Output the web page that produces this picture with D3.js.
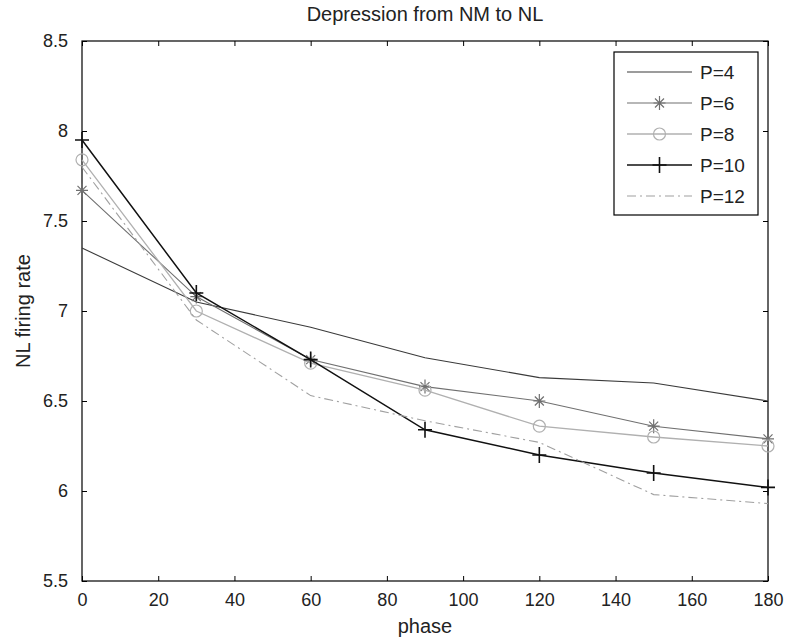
<!DOCTYPE html>
<html><head><meta charset="utf-8">
<script src="https://cdn.jsdelivr.net/npm/d3@7"></script>
<style>body{margin:0;background:#fff}svg text{font-family:"Liberation Sans",Arial,sans-serif;fill:#222}</style>
</head><body><svg id="c" width="786" height="641"></svg>
<script>
const phases = [0, 30, 60, 90, 120, 150, 180];
const p4  = [7.35, 7.05, 6.91, 6.74, 6.63, 6.60, 6.50];
const p6  = [7.67, 7.08, 6.73, 6.58, 6.50, 6.36, 6.29];
const p8  = [7.84, 7.00, 6.71, 6.56, 6.36, 6.30, 6.25];
const p10 = [7.95, 7.10, 6.73, 6.34, 6.20, 6.10, 6.02];
const p12 = [7.80, 6.95, 6.53, 6.39, 6.27, 5.98, 5.93];
const seriesNames = ["P=4", "P=6", "P=8", "P=10", "P=12"];
const xTicks = [0, 20, 40, 60, 80, 100, 120, 140, 160, 180];
const yTicks = [5.5, 6, 6.5, 7, 7.5, 8, 8.5];
const yTickLabels = ["5.5", "6", "6.5", "7", "7.5", "8", "8.5"];

const series = [
  {name: seriesNames[0], values: p4,  color: "#3a3a3a", width: 1.1, dash: null, marker: null},
  {name: seriesNames[1], values: p6,  color: "#707070", width: 1.1, dash: null, marker: "star"},
  {name: seriesNames[2], values: p8,  color: "#b0b0b0", width: 1.3, dash: null, marker: "circle"},
  {name: seriesNames[3], values: p10, color: "#111111", width: 1.5, dash: null, marker: "plus"},
  {name: seriesNames[4], values: p12, color: "#a0a0a0", width: 1.1, dash: "9,4,2,4", marker: null}
];

const L = 82, R = 768, T = 41, B = 581;
const svg = d3.select("#c");
const x = d3.scaleLinear().domain([0, 180]).range([L, R]);
const y = d3.scaleLinear().domain([5.5, 8.5]).range([B, T]);

// axes
const tl = 5;
svg.append("g").attr("transform", `translate(0,${B})`)
  .call(d3.axisBottom(x).tickValues(xTicks).tickSizeInner(-tl).tickSizeOuter(0).tickPadding(12).tickFormat(d3.format("d")))
  .call(g => { g.select(".domain").remove(); g.selectAll("text").attr("font-size", 18).attr("dy", "0.72em"); g.selectAll("line").attr("stroke", "#000"); });
svg.append("g").attr("transform", `translate(0,${T})`)
  .call(d3.axisTop(x).tickValues(xTicks).tickSizeInner(-tl).tickSizeOuter(0).tickFormat(""))
  .call(g => { g.select(".domain").remove(); g.selectAll("line").attr("stroke", "#000"); });
svg.append("g").attr("transform", `translate(${L},0)`)
  .call(d3.axisLeft(y).tickValues(yTicks).tickSizeInner(-tl).tickSizeOuter(0).tickPadding(14).tickFormat((d, i) => yTickLabels[i]))
  .call(g => { g.select(".domain").remove(); g.selectAll("text").attr("font-size", 18); g.selectAll("line").attr("stroke", "#000"); });
svg.append("g").attr("transform", `translate(${R},0)`)
  .call(d3.axisRight(y).tickValues(yTicks).tickSizeInner(-tl).tickSizeOuter(0).tickFormat(""))
  .call(g => { g.select(".domain").remove(); g.selectAll("line").attr("stroke", "#000"); });
svg.append("rect").attr("x", L).attr("y", T).attr("width", R - L).attr("height", B - T)
  .attr("fill", "none").attr("stroke", "#000").attr("stroke-width", 1.2);

// markers
function drawMarker(g, type, cx, cy, color) {
  if (type === "plus") {
    g.append("path").attr("d", `M${cx-7},${cy}H${cx+7}M${cx},${cy-8}V${cy+8}`).attr("stroke", color).attr("stroke-width", 1.6).attr("fill", "none");
  } else if (type === "star") {
    g.append("path").attr("d", `M${cx-6},${cy}H${cx+6}M${cx},${cy-7}V${cy+7}M${cx-4.5},${cy-4.5}L${cx+4.5},${cy+4.5}M${cx-4.5},${cy+4.5}L${cx+4.5},${cy-4.5}`).attr("stroke", color).attr("stroke-width", 1.2).attr("fill", "none");
  } else if (type === "circle") {
    g.append("circle").attr("cx", cx).attr("cy", cy).attr("r", 6).attr("stroke", color).attr("stroke-width", 1.2).attr("fill", "none");
  }
}

const line = d3.line().x((d, i) => x(phases[i])).y(d => y(d));
const plot = svg.append("g");
series.forEach(s => {
  plot.append("path").datum(s.values).attr("d", line).attr("fill", "none")
    .attr("stroke", s.color).attr("stroke-width", s.width).attr("stroke-dasharray", s.dash);
  if (s.marker) s.values.forEach((v, i) => drawMarker(plot, s.marker, x(phases[i]), y(v), s.color));
});

// legend
const lg = svg.append("g");
lg.append("rect").attr("x", 614).attr("y", 52).attr("width", 144).attr("height", 163)
  .attr("fill", "#fff").attr("stroke", "#000").attr("stroke-width", 1.2);
series.forEach((s, i) => {
  const ly = 72 + i * 31;
  lg.append("line").attr("x1", 627).attr("x2", 692).attr("y1", ly).attr("y2", ly)
    .attr("stroke", s.color).attr("stroke-width", s.width).attr("stroke-dasharray", s.dash);
  if (s.marker) drawMarker(lg, s.marker, 659.5, ly, s.color);
  lg.append("text").attr("x", 700).attr("y", ly).attr("dy", "0.36em").attr("font-size", 19).text(s.name);
});

// titles
svg.append("text").attr("x", (L + R) / 2).attr("y", 21).attr("text-anchor", "middle").attr("font-size", 20).text("Depression from NM to NL");
svg.append("text").attr("x", (L + R) / 2).attr("y", 633).attr("text-anchor", "middle").attr("font-size", 20).text("phase");
svg.append("text").attr("transform", `translate(30,${(T + B) / 2}) rotate(-90)`).attr("text-anchor", "middle").attr("font-size", 20).text("NL firing rate");
</script></body></html>
